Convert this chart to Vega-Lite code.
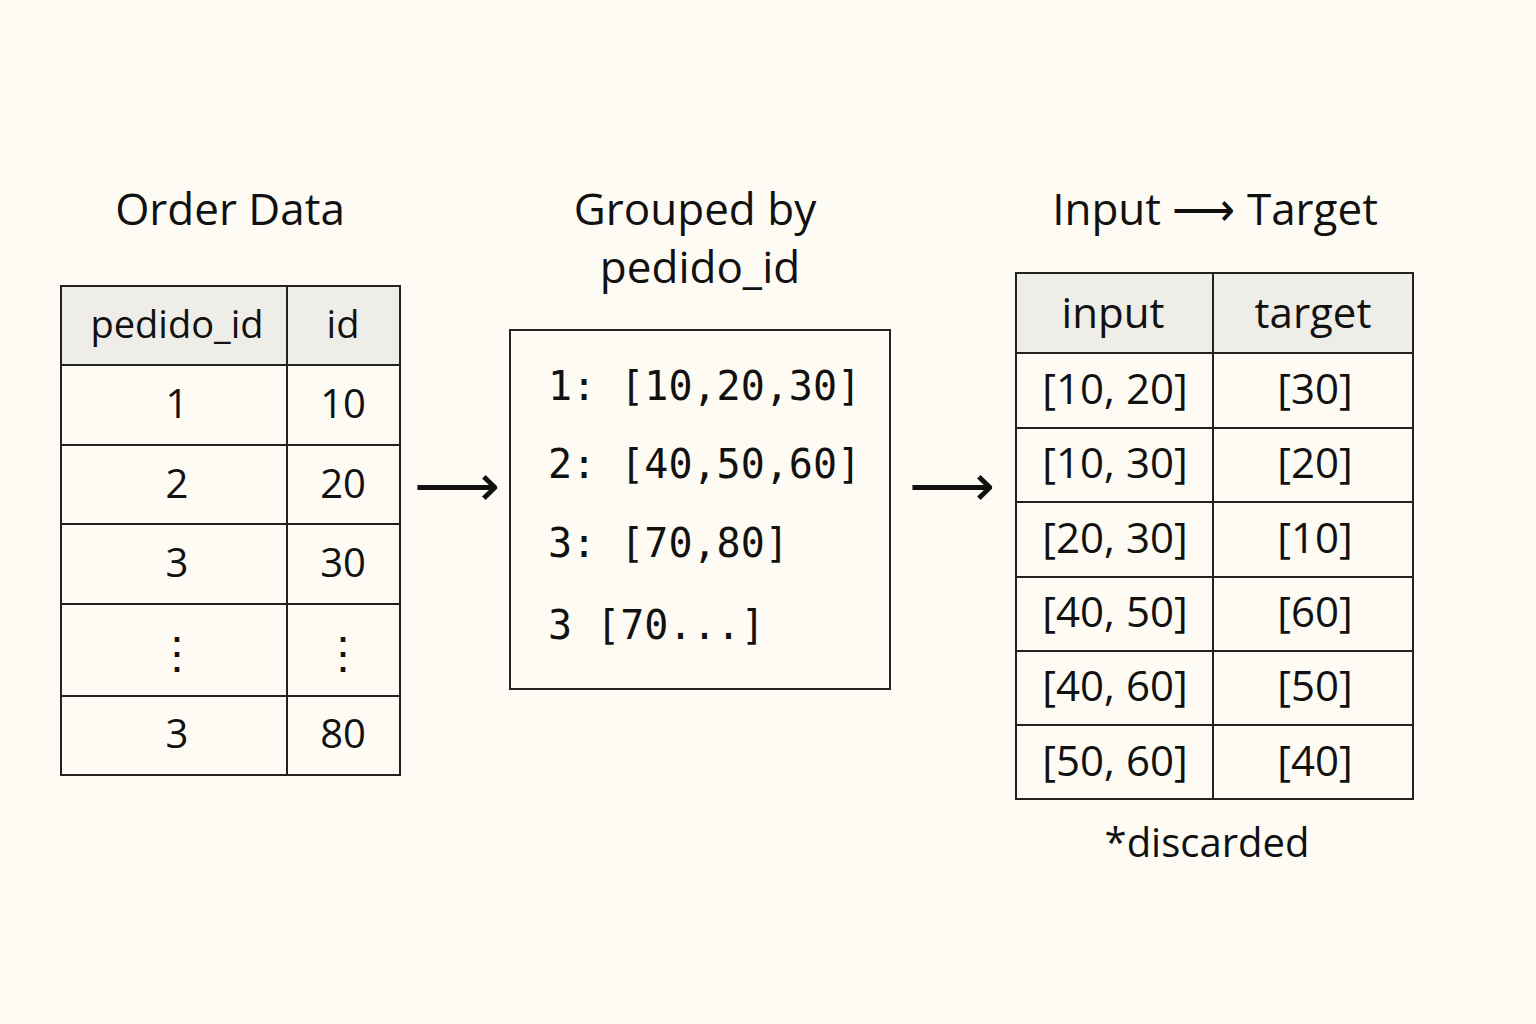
{
  "$schema": "https://vega.github.io/schema/vega-lite/v6.json",
  "autosize": {"type": "fit", "contains": "padding"},
  "width": 1536,
  "height": 1024,
  "padding": 0,
  "background": "#fdfbf3",
  "config": {"view": {"stroke": null}},
  "datasets": {
    "cells": [
      {"x1": 61, "x2": 287, "y1": 286, "y2": 365, "head": true},
      {"x1": 287, "x2": 400, "y1": 286, "y2": 365, "head": true},
      {"x1": 61, "x2": 287, "y1": 365, "y2": 445, "head": false},
      {"x1": 287, "x2": 400, "y1": 365, "y2": 445, "head": false},
      {"x1": 61, "x2": 287, "y1": 445, "y2": 524, "head": false},
      {"x1": 287, "x2": 400, "y1": 445, "y2": 524, "head": false},
      {"x1": 61, "x2": 287, "y1": 524, "y2": 604, "head": false},
      {"x1": 287, "x2": 400, "y1": 524, "y2": 604, "head": false},
      {"x1": 61, "x2": 287, "y1": 604, "y2": 696, "head": false},
      {"x1": 287, "x2": 400, "y1": 604, "y2": 696, "head": false},
      {"x1": 61, "x2": 287, "y1": 696, "y2": 775, "head": false},
      {"x1": 287, "x2": 400, "y1": 696, "y2": 775, "head": false},
      {"x1": 510, "x2": 890, "y1": 330, "y2": 689, "head": false},
      {"x1": 1016, "x2": 1213, "y1": 273, "y2": 353, "head": true},
      {"x1": 1213, "x2": 1413, "y1": 273, "y2": 353, "head": true},
      {"x1": 1016, "x2": 1213, "y1": 353, "y2": 428, "head": false},
      {"x1": 1213, "x2": 1413, "y1": 353, "y2": 428, "head": false},
      {"x1": 1016, "x2": 1213, "y1": 428, "y2": 502, "head": false},
      {"x1": 1213, "x2": 1413, "y1": 428, "y2": 502, "head": false},
      {"x1": 1016, "x2": 1213, "y1": 502, "y2": 577, "head": false},
      {"x1": 1213, "x2": 1413, "y1": 502, "y2": 577, "head": false},
      {"x1": 1016, "x2": 1213, "y1": 577, "y2": 651, "head": false},
      {"x1": 1213, "x2": 1413, "y1": 577, "y2": 651, "head": false},
      {"x1": 1016, "x2": 1213, "y1": 651, "y2": 725, "head": false},
      {"x1": 1213, "x2": 1413, "y1": 651, "y2": 725, "head": false},
      {"x1": 1016, "x2": 1213, "y1": 725, "y2": 799, "head": false},
      {"x1": 1213, "x2": 1413, "y1": 725, "y2": 799, "head": false}
    ],
    "labels": [
      {"x": 230, "y": 212, "t": "Order Data", "s": 44},
      {"x": 695, "y": 212, "t": "Grouped by", "s": 44},
      {"x": 700, "y": 270, "t": "pedido_id", "s": 44},
      {"x": 1215, "y": 212, "t": "Input ⟶ Target", "s": 44},
      {"x": 177, "y": 327, "t": "pedido_id", "s": 38},
      {"x": 343, "y": 327, "t": "id", "s": 38},
      {"x": 177, "y": 406, "t": "1", "s": 40},
      {"x": 343, "y": 406, "t": "10", "s": 40},
      {"x": 177, "y": 486, "t": "2", "s": 40},
      {"x": 343, "y": 486, "t": "20", "s": 40},
      {"x": 177, "y": 565, "t": "3", "s": 40},
      {"x": 343, "y": 565, "t": "30", "s": 40},
      {"x": 177, "y": 655, "t": "⋮", "s": 44},
      {"x": 343, "y": 655, "t": "⋮", "s": 44},
      {"x": 177, "y": 736, "t": "3", "s": 40},
      {"x": 343, "y": 736, "t": "80", "s": 40},
      {"x": 457, "y": 488, "t": "⟶", "s": 60},
      {"x": 952, "y": 488, "t": "⟶", "s": 60},
      {"x": 1113, "y": 315, "t": "input", "s": 42},
      {"x": 1313, "y": 315, "t": "target", "s": 42},
      {"x": 1115, "y": 391, "t": "[10, 20]", "s": 42},
      {"x": 1315, "y": 391, "t": "[30]", "s": 42},
      {"x": 1115, "y": 465, "t": "[10, 30]", "s": 42},
      {"x": 1315, "y": 465, "t": "[20]", "s": 42},
      {"x": 1115, "y": 540, "t": "[20, 30]", "s": 42},
      {"x": 1315, "y": 540, "t": "[10]", "s": 42},
      {"x": 1115, "y": 614, "t": "[40, 50]", "s": 42},
      {"x": 1315, "y": 614, "t": "[60]", "s": 42},
      {"x": 1115, "y": 688, "t": "[40, 60]", "s": 42},
      {"x": 1315, "y": 688, "t": "[50]", "s": 42},
      {"x": 1115, "y": 763, "t": "[50, 60]", "s": 42},
      {"x": 1315, "y": 763, "t": "[40]", "s": 42},
      {"x": 1207, "y": 845, "t": "*discarded", "s": 40}
    ],
    "code": [
      {"x": 548, "y": 388, "t": "1: [10,20,30]"},
      {"x": 548, "y": 466, "t": "2: [40,50,60]"},
      {"x": 548, "y": 545, "t": "3: [70,80]"},
      {"x": 548, "y": 627, "t": "3  [70...]"}
    ]
  },
  "layer": [
    {
      "data": {"name": "cells"},
      "mark": {"type": "rect", "stroke": "#222222", "strokeWidth": 2},
      "encoding": {
        "x": {"field": "x1", "type": "quantitative", "scale": {"domain": [0, 1536], "nice": false, "zero": false}, "axis": null},
        "x2": {"field": "x2"},
        "y": {"field": "y1", "type": "quantitative", "scale": {"domain": [1024, 0], "nice": false, "zero": false}, "axis": null},
        "y2": {"field": "y2"},
        "fill": {"condition": {"test": "datum.head", "value": "#efede7"}, "value": "#fdfbf3"}
      }
    },
    {
      "data": {"name": "labels"},
      "mark": {"type": "text", "font": "Open Sans", "baseline": "middle", "color": "#111111"},
      "encoding": {
        "x": {"field": "x", "type": "quantitative"},
        "y": {"field": "y", "type": "quantitative"},
        "text": {"field": "t"},
        "size": {"field": "s", "type": "quantitative", "scale": null}
      }
    },
    {
      "data": {"name": "code"},
      "mark": {"type": "text", "font": "DejaVu Sans Mono", "fontSize": 40, "align": "left", "baseline": "middle", "color": "#111111"},
      "encoding": {
        "x": {"field": "x", "type": "quantitative"},
        "y": {"field": "y", "type": "quantitative"},
        "text": {"field": "t"}
      }
    }
  ]
}
